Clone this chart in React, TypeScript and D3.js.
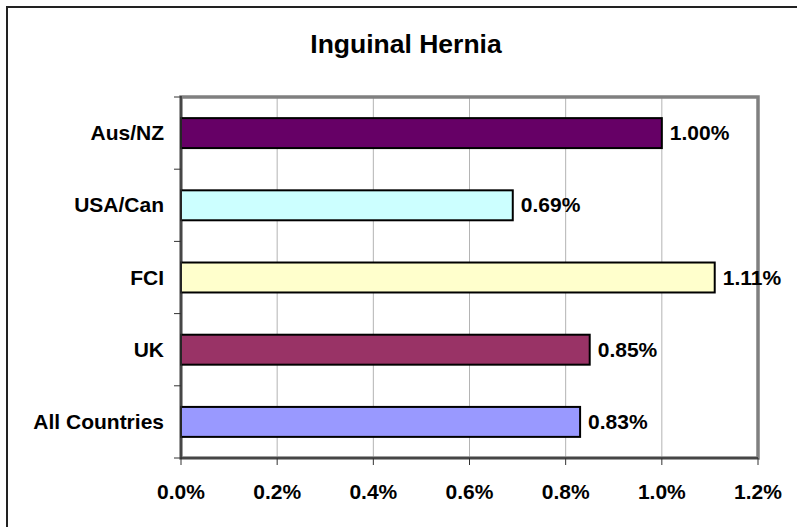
import React from 'react';
import * as d3 from 'd3';

const categories = ['Aus/NZ', 'USA/Can', 'FCI', 'UK', 'All Countries'];
const values = [0.01, 0.0069, 0.0111, 0.0085, 0.0083];
const colors = ['#660066', '#CCFFFF', '#FFFFCC', '#993366', '#9999FF'];
const xTicks = [0, 0.002, 0.004, 0.006, 0.008, 0.01, 0.012];
const title = 'Inguinal Hernia';

const W = 797;
const H = 527;
const plot = { left: 181, right: 758, top: 97, bottom: 458 };
const font = 'Arial, "Liberation Sans", sans-serif';
const labelSize = 21;

export default function App() {
  const x = d3.scaleLinear().domain([0, 0.012]).range([plot.left, plot.right]);
  const y = d3.scaleBand().domain(categories).range([plot.top, plot.bottom]);
  const step = y.step();
  const bh = step * 0.415;
  const pct1 = d3.format('.1%');
  const pct2 = d3.format('.2%');

  // category boundaries for the y ticks
  const yTicks = categories.map((c) => y(c)!).concat([plot.bottom]);

  return (
    <svg width={W} height={H} style={{ position: 'absolute', left: 0, top: 0, background: '#fff' }}>
      <rect x={7} y={7} width={W + 10} height={H + 10} fill="#fff" stroke="#222" strokeWidth={2} />
      <text x={406} y={53} textAnchor="middle" fontFamily={font} fontWeight="bold" fontSize={26.5}>
        {title}
      </text>

      {/* gridlines */}
      {xTicks.slice(1, -1).map((t) => (
        <line key={t} x1={x(t)} x2={x(t)} y1={plot.top} y2={plot.bottom} stroke="#b4b4b4" strokeWidth={1} />
      ))}

      {/* plot frame */}
      <rect
        x={plot.left}
        y={plot.top}
        width={plot.right - plot.left}
        height={plot.bottom - plot.top}
        fill="none"
        stroke="#808080"
        strokeWidth={3.5}
      />

      {/* bars */}
      {categories.map((c, i) => (
        <g key={c}>
          <rect
            x={x(0)}
            y={y(c)! + (step - bh) / 2}
            width={x(values[i]) - x(0)}
            height={bh}
            fill={colors[i]}
            stroke="#000"
            strokeWidth={2}
          />
          <text
            x={x(values[i]) + 8}
            y={y(c)! + step / 2 + 7}
            fontFamily={font}
            fontWeight="bold"
            fontSize={labelSize}
          >
            {pct2(values[i])}
          </text>
          <text
            x={164}
            y={y(c)! + step / 2 + 7}
            textAnchor="end"
            fontFamily={font}
            fontWeight="bold"
            fontSize={labelSize}
          >
            {c}
          </text>
        </g>
      ))}

      {/* axes */}
      <line x1={plot.left} x2={plot.left} y1={plot.top - 1} y2={plot.bottom + 1} stroke="#333" strokeWidth={1.5} />
      <line x1={plot.left} x2={plot.right} y1={plot.bottom} y2={plot.bottom} stroke="#333" strokeWidth={1.5} />
      {yTicks.map((t, i) => (
        <line key={i} x1={plot.left - 7} x2={plot.left} y1={t} y2={t} stroke="#333" strokeWidth={1} />
      ))}
      {xTicks.map((t) => (
        <g key={t}>
          <line x1={x(t)} x2={x(t)} y1={plot.bottom} y2={plot.bottom + 7} stroke="#333" strokeWidth={1} />
          <text x={x(t)} y={499} textAnchor="middle" fontFamily={font} fontWeight="bold" fontSize={labelSize}>
            {pct1(t)}
          </text>
        </g>
      ))}
    </svg>
  );
}
